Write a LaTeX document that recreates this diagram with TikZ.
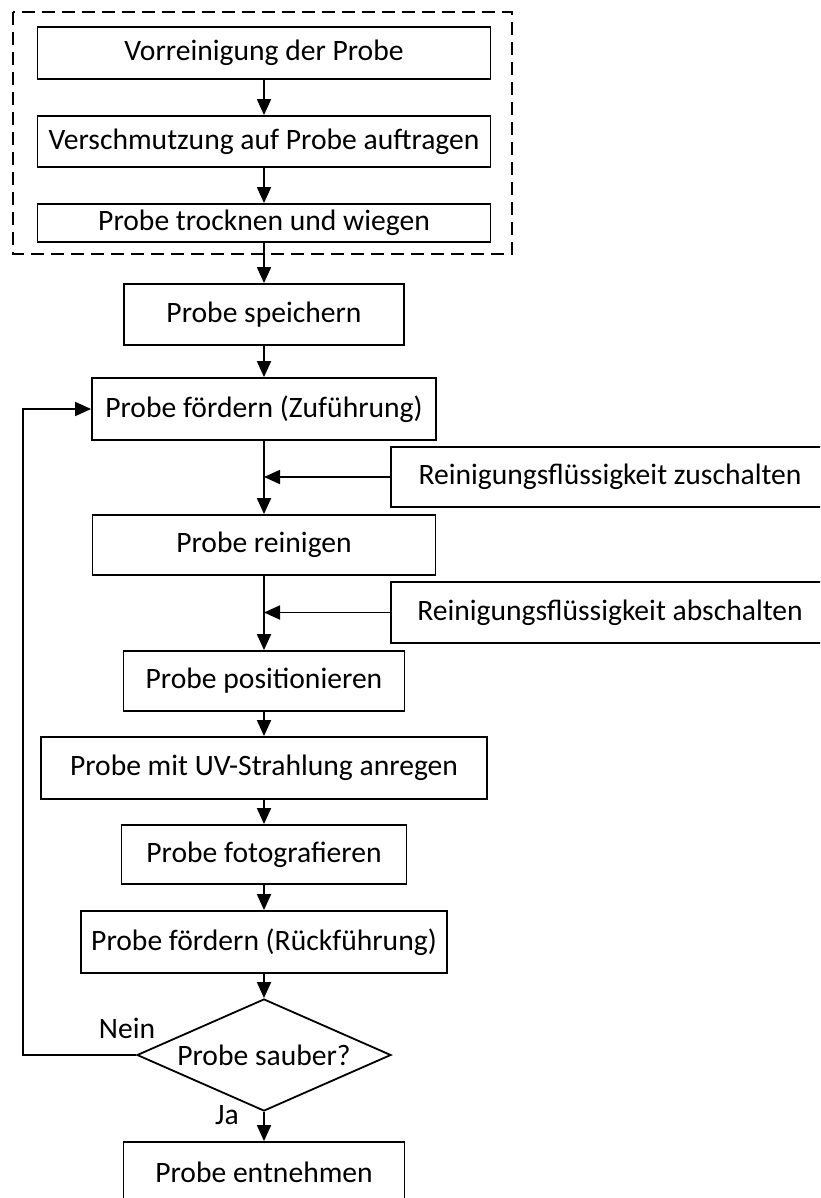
\documentclass[tikz,border=0pt]{standalone}
\usepackage{fontspec}
\setmainfont{Carlito}
\usetikzlibrary{arrows.meta,shapes.geometric}

\begin{document}
\begin{tikzpicture}[
  x=0.5pt, y=-0.5pt,
  >={Triangle[length=8pt,width=7pt]},
  stepbox/.style 2 args={draw, line width=0.9pt, minimum width=#1, minimum height=#2, inner sep=0pt, align=center},
  test/.style={draw, diamond, line width=0.9pt, minimum width=127pt, minimum height=56pt, inner sep=0pt, aspect=2.27},
  frame/.style={draw, line width=0.9pt, dash pattern=on 6.5pt off 3.5pt},
  arr/.style={->, line width=0.9pt},
  every node/.style={font=\fontsize{14.8}{17}\selectfont}
]
\useasboundingbox (0,0) rectangle (820,1198);
\clip (0,0) rectangle (820,1198);

% preparation
\draw[frame] (13,12) rectangle (512,254);
\node[stepbox={226.5pt}{26pt}] (prep1) at (264,53) {Vorreinigung der Probe};
\node[stepbox={226.5pt}{25.5pt}] (prep2) at (264,141.5) {Verschmutzung auf Probe auftragen};
\node[stepbox={226.5pt}{19pt}] (prep3) at (264,223) {Probe trocknen und wiegen};

% main sequence
\node[stepbox={140pt}{30.5pt}] (store) at (264,314.5) {Probe speichern};
\node[stepbox={172pt}{31pt}] (feed) at (264,409) {Probe fördern (Zuführung)};
\node[stepbox={219pt}{30pt}] (fluidon) at (610,477) {Reinigungsflüssigkeit zuschalten};
\node[stepbox={171.5pt}{30pt}] (clean) at (264,545) {Probe reinigen};
\node[stepbox={219pt}{30.5pt}] (fluidoff) at (610,612.5) {Reinigungsflüssigkeit abschalten};
\node[stepbox={140.5pt}{30pt}] (place) at (264,681) {Probe positionieren};
\node[stepbox={223pt}{31pt}] (uv) at (264,768) {Probe mit UV-Strahlung anregen};
\node[stepbox={142.5pt}{29.5pt}] (photo) at (264,854.5) {Probe fotografieren};
\node[stepbox={183pt}{31pt}] (back) at (264,942) {Probe fördern (Rückführung)};
\node[test] (clean?) at (264,1055) {Probe sauber?};
\node[stepbox={140.5pt}{30pt}] (remove) at (264,1172) {Probe entnehmen};

\node (no) at (127,1028) {Nein};
\node (yes) at (227,1115) {Ja};

\coordinate (on) at (feed.south |- fluidon.west);
\coordinate (off) at (clean.south |- fluidoff.west);
\coordinate (loop) at (23,1055);

\draw[arr] (prep1) -- (prep2);
\draw[arr] (prep2) -- (prep3);
\draw[arr] (prep3) -- (store);
\draw[arr] (store) -- (feed);
\draw[arr] (feed) -- (clean);
\draw[arr] (fluidon) -- (on);
\draw[arr] (clean) -- (place);
\draw[arr] (fluidoff) -- (off);
\draw[arr] (place) -- (uv);
\draw[arr] (uv) -- (photo);
\draw[arr] (photo) -- (back);
\draw[arr] (back) -- (clean?);
\draw[arr] (clean?) -- (remove);
\draw[arr] (clean?.west) -- (loop) |- (feed.west);
\end{tikzpicture}
\end{document}
